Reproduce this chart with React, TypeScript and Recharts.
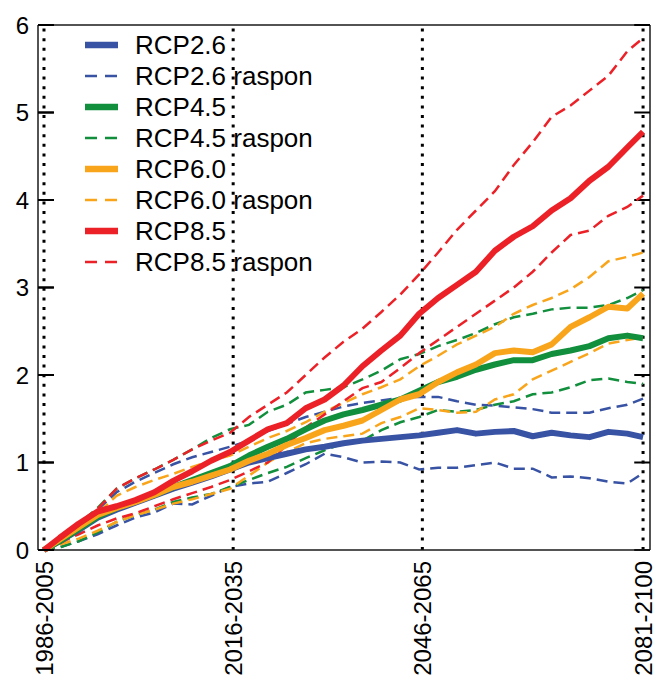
import React from 'react';
import { LineChart, Line, XAxis, YAxis, ReferenceLine } from 'recharts';

const years = [1995.5, 1998, 2001, 2004, 2007, 2010, 2013, 2016, 2019, 2022, 2025, 2028, 2031, 2034, 2037, 2040, 2043, 2046, 2049, 2052, 2055, 2058, 2061, 2064, 2067, 2070, 2073, 2076, 2079, 2082, 2085, 2088, 2090.5];

const rcp26 = [0, 0.10, 0.23, 0.37, 0.46, 0.54, 0.62, 0.70, 0.77, 0.84, 0.92, 1.00, 1.05, 1.10, 1.15, 1.18, 1.22, 1.25, 1.27, 1.29, 1.31, 1.34, 1.37, 1.33, 1.35, 1.36, 1.30, 1.34, 1.31, 1.29, 1.35, 1.33, 1.29];
const rcp26Hi = [0, 0.14, 0.30, 0.46, 0.66, 0.78, 0.88, 0.98, 1.06, 1.12, 1.18, 1.25, 1.36, 1.44, 1.52, 1.58, 1.64, 1.68, 1.71, 1.74, 1.75, 1.75, 1.70, 1.66, 1.65, 1.63, 1.61, 1.57, 1.57, 1.57, 1.62, 1.66, 1.73];
const rcp26Lo = [0, 0.03, 0.10, 0.18, 0.28, 0.37, 0.43, 0.53, 0.52, 0.62, 0.72, 0.76, 0.78, 0.88, 0.98, 1.10, 1.06, 1.00, 1.01, 1.00, 0.92, 0.94, 0.94, 0.97, 1.00, 0.93, 0.93, 0.83, 0.84, 0.82, 0.78, 0.76, 0.88];

const rcp45 = [0, 0.10, 0.24, 0.38, 0.48, 0.56, 0.63, 0.72, 0.80, 0.88, 0.96, 1.08, 1.18, 1.27, 1.38, 1.48, 1.55, 1.60, 1.66, 1.72, 1.82, 1.92, 1.98, 2.06, 2.12, 2.17, 2.17, 2.24, 2.28, 2.33, 2.42, 2.45, 2.42];
const rcp45Hi = [0, 0.14, 0.30, 0.48, 0.70, 0.82, 0.92, 1.03, 1.15, 1.28, 1.38, 1.43, 1.58, 1.66, 1.80, 1.83, 1.86, 1.95, 2.05, 2.18, 2.24, 2.33, 2.40, 2.48, 2.58, 2.66, 2.70, 2.75, 2.77, 2.77, 2.80, 2.88, 2.97];
const rcp45Lo = [0, 0.03, 0.10, 0.20, 0.32, 0.40, 0.46, 0.55, 0.60, 0.64, 0.72, 0.80, 0.88, 0.95, 1.05, 1.14, 1.22, 1.25, 1.37, 1.46, 1.52, 1.60, 1.58, 1.60, 1.66, 1.70, 1.78, 1.80, 1.86, 1.94, 1.96, 1.92, 1.90];

const rcp60 = [0, 0.12, 0.26, 0.40, 0.48, 0.55, 0.63, 0.72, 0.78, 0.85, 0.92, 1.02, 1.10, 1.20, 1.28, 1.37, 1.42, 1.48, 1.60, 1.72, 1.78, 1.92, 2.03, 2.12, 2.25, 2.28, 2.26, 2.35, 2.55, 2.66, 2.78, 2.76, 2.93];
const rcp60Hi = [0, 0.15, 0.30, 0.42, 0.62, 0.72, 0.80, 0.87, 0.95, 1.02, 1.08, 1.18, 1.28, 1.36, 1.46, 1.58, 1.68, 1.78, 1.86, 1.95, 2.10, 2.22, 2.35, 2.45, 2.55, 2.70, 2.80, 2.88, 2.98, 3.12, 3.30, 3.35, 3.40];
const rcp60Lo = [0, 0.06, 0.13, 0.22, 0.32, 0.40, 0.46, 0.53, 0.58, 0.64, 0.70, 0.85, 1.00, 1.12, 1.22, 1.27, 1.30, 1.33, 1.45, 1.52, 1.62, 1.60, 1.57, 1.58, 1.72, 1.78, 1.95, 2.05, 2.15, 2.25, 2.36, 2.40, 2.43];

const rcp85 = [0, 0.14, 0.30, 0.44, 0.50, 0.57, 0.66, 0.79, 0.90, 1.02, 1.12, 1.25, 1.38, 1.45, 1.62, 1.72, 1.88, 2.10, 2.28, 2.45, 2.70, 2.88, 3.03, 3.18, 3.42, 3.58, 3.70, 3.88, 4.02, 4.22, 4.38, 4.60, 4.78];
const rcp85Hi = [0, 0.15, 0.30, 0.47, 0.70, 0.82, 0.92, 1.03, 1.15, 1.25, 1.34, 1.52, 1.66, 1.80, 2.00, 2.20, 2.38, 2.53, 2.72, 2.92, 3.15, 3.40, 3.66, 3.88, 4.10, 4.40, 4.66, 4.95, 5.08, 5.25, 5.42, 5.70, 5.85];
const rcp85Lo = [0, 0.08, 0.18, 0.28, 0.36, 0.42, 0.50, 0.58, 0.65, 0.72, 0.80, 0.90, 1.00, 1.20, 1.40, 1.55, 1.70, 1.85, 1.92, 2.08, 2.25, 2.40, 2.55, 2.70, 2.85, 3.00, 3.18, 3.40, 3.60, 3.65, 3.82, 3.92, 4.05];

const xTicks = [1995.5, 2025.5, 2055.5, 2090.5];
const xTickLabels = ['1986-2005', '2016-2035', '2046-2065', '2081-2100'];
const yTicks = [0, 1, 2, 3, 4, 5, 6];
const xDomain: [number, number] = [1994.55, 2091.6];
const yDomain: [number, number] = [0, 6];

const BLUE = '#3953a4';
const GREEN = '#128f3d';
const ORANGE = '#f9a51b';
const RED = '#ec2127';

const legendItems = [
  { label: 'RCP2.6', color: BLUE, dashed: false },
  { label: 'RCP2.6 raspon', color: BLUE, dashed: true },
  { label: 'RCP4.5', color: GREEN, dashed: false },
  { label: 'RCP4.5 raspon', color: GREEN, dashed: true },
  { label: 'RCP6.0', color: ORANGE, dashed: false },
  { label: 'RCP6.0 raspon', color: ORANGE, dashed: true },
  { label: 'RCP8.5', color: RED, dashed: false },
  { label: 'RCP8.5 raspon', color: RED, dashed: true },
];

const data = years.map((yr, i) => ({
  yr,
  rcp26: rcp26[i], rcp26Hi: rcp26Hi[i], rcp26Lo: rcp26Lo[i],
  rcp45: rcp45[i], rcp45Hi: rcp45Hi[i], rcp45Lo: rcp45Lo[i],
  rcp60: rcp60[i], rcp60Hi: rcp60Hi[i], rcp60Lo: rcp60Lo[i],
  rcp85: rcp85[i], rcp85Hi: rcp85Hi[i], rcp85Lo: rcp85Lo[i],
}));

const FONT = '"Liberation Sans", Arial, Helvetica, sans-serif';
const AXIS = '#1a1a1a';
const Y_MARGIN = 9;
const TICK_PX = 16;
// inward tick length expressed in years (about 16px at this scale)
const TICK_YEARS = 2.5;

const LeftTick = (props: any) => {
  const { x, y, payload } = props;
  return (
    <g>
      <line x1={x + Y_MARGIN} x2={x + Y_MARGIN + TICK_PX} y1={y} y2={y} stroke="#000" strokeWidth={2} />
      <text x={x} y={y} textAnchor="end" dominantBaseline="central" fontSize={24} fontFamily={FONT} fill="#000">
        {payload.value}
      </text>
    </g>
  );
};

const BottomTick = (props: any) => {
  const { x, y, payload } = props;
  const idx = xTicks.indexOf(payload.value);
  const label = idx >= 0 ? xTickLabels[idx] : String(payload.value);
  return (
    <text
      x={x}
      y={y}
      transform={`rotate(-90, ${x}, ${y})`}
      textAnchor="end"
      dy="0.36em"
      fontSize={24}
      fontFamily={FONT}
      fill="#000"
    >
      {label}
    </text>
  );
};

const LegendBox = () => (
  <svg
    width={260}
    height={legendItems.length * 31 + 4}
    style={{ position: 'absolute', left: 85, top: 29, overflow: 'visible', pointerEvents: 'none' }}
  >
    {legendItems.map((it, i) => {
      const cy = 16 + i * 31;
      return (
        <g key={it.label}>
          <line
            x1={0}
            x2={33}
            y1={cy}
            y2={cy}
            stroke={it.color}
            strokeWidth={it.dashed ? 2.5 : 6.5}
            strokeDasharray={it.dashed ? '12 8' : undefined}
          />
          <text x={50} y={cy} dominantBaseline="central" fontSize={26} fontFamily={FONT} fill="#000">
            {it.label}
          </text>
        </g>
      );
    })}
  </svg>
);

export default function App() {
  const dashW = 2.5;
  const solidW = 6;
  const dash = '11 6';
  return (
    <div style={{ position: 'absolute', left: 0, top: 0, width: 657, height: 681, background: '#fff' }}>
      <LineChart width={657} height={681} data={data} margin={{ top: 25, right: 7, bottom: 0, left: 8 }}>
        <XAxis
          dataKey="yr"
          type="number"
          domain={xDomain}
          ticks={xTicks}
          interval={0}
          height={131}
          tickLine={false}
          tickSize={0}
          tickMargin={11}
          tick={<BottomTick />}
          axisLine={{ stroke: AXIS, strokeWidth: 1.5 }}
        />
        <YAxis
          type="number"
          domain={yDomain}
          ticks={yTicks}
          interval={0}
          width={30}
          tickLine={false}
          tickSize={0}
          tickMargin={Y_MARGIN}
          tick={<LeftTick />}
          axisLine={{ stroke: AXIS, strokeWidth: 1.5 }}
        />
        <ReferenceLine y={yDomain[1]} stroke={AXIS} strokeWidth={1.5} />
        <ReferenceLine x={xDomain[1]} stroke={AXIS} strokeWidth={1.5} />
        {xTicks.map((t) => (
          <ReferenceLine key={t} x={t} stroke="#000" strokeWidth={3} strokeDasharray="3 6.6" />
        ))}
        {yTicks.map((v) => (
          <ReferenceLine
            key={`lt${v}`}
            segment={[{ x: xDomain[0], y: v }, { x: xDomain[0] + TICK_YEARS, y: v }]}
            stroke="#000"
            strokeWidth={2}
            ifOverflow="visible"
          />
        ))}
        {yTicks.map((v) => (
          <ReferenceLine
            key={`rt${v}`}
            segment={[{ x: xDomain[1] - TICK_YEARS, y: v }, { x: xDomain[1], y: v }]}
            stroke="#000"
            strokeWidth={2}
            ifOverflow="visible"
          />
        ))}
        <Line dataKey="rcp26Hi" stroke={BLUE} strokeWidth={dashW} strokeDasharray={dash} dot={false} isAnimationActive={false} />
        <Line dataKey="rcp26Lo" stroke={BLUE} strokeWidth={dashW} strokeDasharray={dash} dot={false} isAnimationActive={false} />
        <Line dataKey="rcp45Hi" stroke={GREEN} strokeWidth={dashW} strokeDasharray={dash} dot={false} isAnimationActive={false} />
        <Line dataKey="rcp45Lo" stroke={GREEN} strokeWidth={dashW} strokeDasharray={dash} dot={false} isAnimationActive={false} />
        <Line dataKey="rcp60Hi" stroke={ORANGE} strokeWidth={dashW} strokeDasharray={dash} dot={false} isAnimationActive={false} />
        <Line dataKey="rcp60Lo" stroke={ORANGE} strokeWidth={dashW} strokeDasharray={dash} dot={false} isAnimationActive={false} />
        <Line dataKey="rcp85Hi" stroke={RED} strokeWidth={dashW} strokeDasharray={dash} dot={false} isAnimationActive={false} />
        <Line dataKey="rcp85Lo" stroke={RED} strokeWidth={dashW} strokeDasharray={dash} dot={false} isAnimationActive={false} />
        <Line dataKey="rcp26" stroke={BLUE} strokeWidth={solidW} strokeLinejoin="round" dot={false} isAnimationActive={false} />
        <Line dataKey="rcp45" stroke={GREEN} strokeWidth={solidW} strokeLinejoin="round" dot={false} isAnimationActive={false} />
        <Line dataKey="rcp60" stroke={ORANGE} strokeWidth={solidW} strokeLinejoin="round" dot={false} isAnimationActive={false} />
        <Line dataKey="rcp85" stroke={RED} strokeWidth={solidW} strokeLinejoin="round" dot={false} isAnimationActive={false} />
      </LineChart>
      <LegendBox />
    </div>
  );
}
